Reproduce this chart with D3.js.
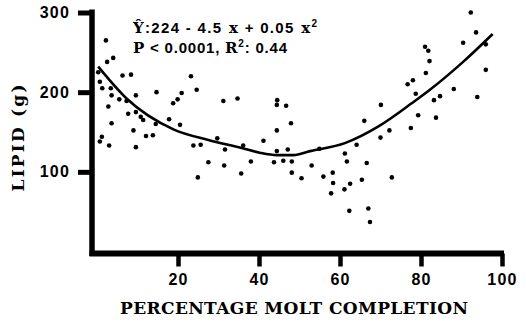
<!DOCTYPE html>
<html>
<head>
<meta charset="utf-8">
<script src="https://cdn.jsdelivr.net/npm/d3@7"></script>
<style>
  body { margin: 0; background: #fff; }
  .tick text { font-family: "Liberation Sans", Arial, sans-serif; font-weight: bold; }
</style>
</head>
<body>
<svg id="chart" width="526" height="323"></svg>
<script>
// scatter: percentage molt completion vs lipid (g)
const moltPct = [
  2.2, 2.5, 4.0, 0.3, 6.3, 8.4, 0.7, 1.3, 3.4, 3.6, 5.5, 7.3, 9.6, 14.7, 18.8,
  2.8, 7.7, 9.6, 10.8, 11.4, 14.5, 17.8, 3.6, 9.0, 12.1, 13.8, 1.2, 0.7, 3.0, 9.6,
  23.2, 24.6, 20.9, 19.9, 31.2, 34.7, 20.5, 29.7, 23.8, 25.6, 31.6, 36.1, 27.5, 31.4,
  38.0, 24.9, 35.6,
  44.5, 44.4, 46.7, 47.9, 44.4, 41.1, 44.4, 47.1, 54.9, 43.7, 46.0, 48.1, 61.2, 61.7,
  48.1, 53.0, 50.5, 55.9, 58.2, 58.3, 57.8, 61.1,
  64.1, 66.0, 70.1, 70.0, 72.2, 66.6, 62.5, 65.4, 72.8, 62.3, 67.0, 67.4,
  76.7, 78.0, 78.7, 79.3, 77.5, 81.0, 81.8, 82.1, 81.2,
  92.3, 93.6, 90.4, 96.0, 96.0, 88.1, 84.7, 83.2, 93.9, 83.7
];
const lipid = [
  265, 238, 243, 225, 221, 222, 213, 205, 205, 196, 191, 189, 196, 200, 186,
  182, 173, 175, 169, 165, 160, 166, 161, 152, 145, 146, 144, 138, 133, 131,
  220, 203, 199, 191, 189, 192, 159, 142, 133, 134, 128, 133, 112, 108,
  113, 93, 98,
  190, 184, 183, 161, 152, 139, 126, 128, 129, 112, 114, 113, 123, 113,
  99, 108, 92, 94, 99, 86, 73, 78,
  134, 164, 184, 143, 152, 111, 85, 90, 93, 51, 54, 37,
  210, 215, 198, 171, 155, 257, 252, 239, 224,
  300, 275, 262, 260, 228, 204, 195, 190, 194, 168
];

// fitted curve as printed
const fitX = [0.3, 7.3, 19, 27.5, 35.7, 40.2, 44.4, 48.5, 52.6, 61.2, 69.5, 77.7, 82.2, 90.4, 97.7];
const fitY = [232, 192, 153, 140, 130, 124, 121, 121, 126, 136, 157, 186, 203, 238, 273];

const xTicks = [20, 40, 60, 80, 100];
const yTicks = [100, 200, 300];

const svg = d3.select("#chart");

const x = d3.scaleLinear().domain([0, 100]).range([97, 502]);
const y = d3.scaleLinear().domain([0, 300]).range([251.5, 12.5]);

const axisX = 92, axisY = 253.5;

// y axis ticks + labels
const gy = svg.append("g")
  .attr("transform", "translate(" + axisX + ",0)")
  .call(d3.axisLeft(y).tickValues(yTicks).tickSize(14).tickSizeOuter(0).tickPadding(8));
gy.select(".domain").remove();
gy.selectAll(".tick line").attr("stroke", "#000").attr("stroke-width", 5);
gy.selectAll(".tick text").attr("font-size", 16).attr("fill", "#000").attr("letter-spacing", 1.2);

// x axis ticks + labels
const gx = svg.append("g")
  .attr("transform", "translate(0," + axisY + ")")
  .call(d3.axisBottom(x).tickValues(xTicks).tickSize(13).tickSizeOuter(0).tickPadding(7));
gx.select(".domain").remove();
gx.selectAll(".tick line").attr("stroke", "#000").attr("stroke-width", 4.5);
gx.selectAll(".tick text").attr("font-size", 16).attr("fill", "#000").attr("letter-spacing", 1.2);

// heavy axis lines
svg.append("line")
  .attr("x1", axisX).attr("x2", axisX)
  .attr("y1", y(300) - 3).attr("y2", axisY + 2.5)
  .attr("stroke", "#000").attr("stroke-width", 5.5);
svg.append("line")
  .attr("x1", axisX - 2.5).attr("x2", x(100) + 2)
  .attr("y1", axisY).attr("y2", axisY)
  .attr("stroke", "#000").attr("stroke-width", 6);

// points
svg.append("g").selectAll("circle")
  .data(moltPct.map((d, i) => [d, lipid[i]]))
  .enter().append("circle")
  .attr("cx", d => x(d[0]))
  .attr("cy", d => y(d[1]))
  .attr("r", 2.3)
  .attr("fill", "#000");

// fit curve
const line = d3.line()
  .x(d => x(d[0]))
  .y(d => y(d[1]))
  .curve(d3.curveMonotoneX);
svg.append("path")
  .datum(fitX.map((d, i) => [d, fitY[i]]))
  .attr("d", line)
  .attr("fill", "none")
  .attr("stroke", "#000")
  .attr("stroke-width", 2.6);

// equation
const serif = '"DejaVu Serif", "Liberation Serif", serif';
const sans = '"Liberation Sans", Arial, sans-serif';
const eq1 = svg.append("text")
  .attr("x", 133).attr("y", 33)
  .attr("font-size", 15).attr("font-weight", "bold")
  .attr("textLength", 184).attr("lengthAdjust", "spacing");
eq1.append("tspan").attr("font-family", serif).text("Ŷ");
eq1.append("tspan").attr("font-family", sans).text(":224 - 4.5");
eq1.append("tspan").attr("font-family", serif).text(" x");
eq1.append("tspan").attr("font-family", sans).text(" + 0.05");
eq1.append("tspan").attr("font-family", serif).text(" x");
eq1.append("tspan").attr("font-family", sans).attr("font-size", 10).attr("dy", -6).text("2");

const eq2 = svg.append("text")
  .attr("x", 133).attr("y", 53)
  .attr("font-size", 15).attr("font-weight", "bold")
  .attr("textLength", 154).attr("lengthAdjust", "spacing");
eq2.append("tspan").attr("font-family", serif).text("P");
eq2.append("tspan").attr("font-family", sans).text(" < 0.0001, ");
eq2.append("tspan").attr("font-family", serif).text("R");
eq2.append("tspan").attr("font-family", sans).attr("font-size", 10).attr("dy", -6).text("2");
eq2.append("tspan").attr("font-family", sans).attr("dy", 6).text(": 0.44");

// axis titles
svg.append("text")
  .attr("x", 294).attr("y", 314)
  .attr("text-anchor", "middle")
  .attr("font-family", serif).attr("font-weight", "bold").attr("font-size", 17)
  .attr("textLength", 348).attr("lengthAdjust", "spacing")
  .text("PERCENTAGE MOLT COMPLETION");

svg.append("text")
  .attr("transform", "translate(24,138) rotate(-90)")
  .attr("text-anchor", "middle")
  .attr("font-family", serif).attr("font-weight", "bold").attr("font-size", 17)
  .attr("textLength", 107).attr("lengthAdjust", "spacing")
  .text("LIPID (g)");
</script>
</body>
</html>
